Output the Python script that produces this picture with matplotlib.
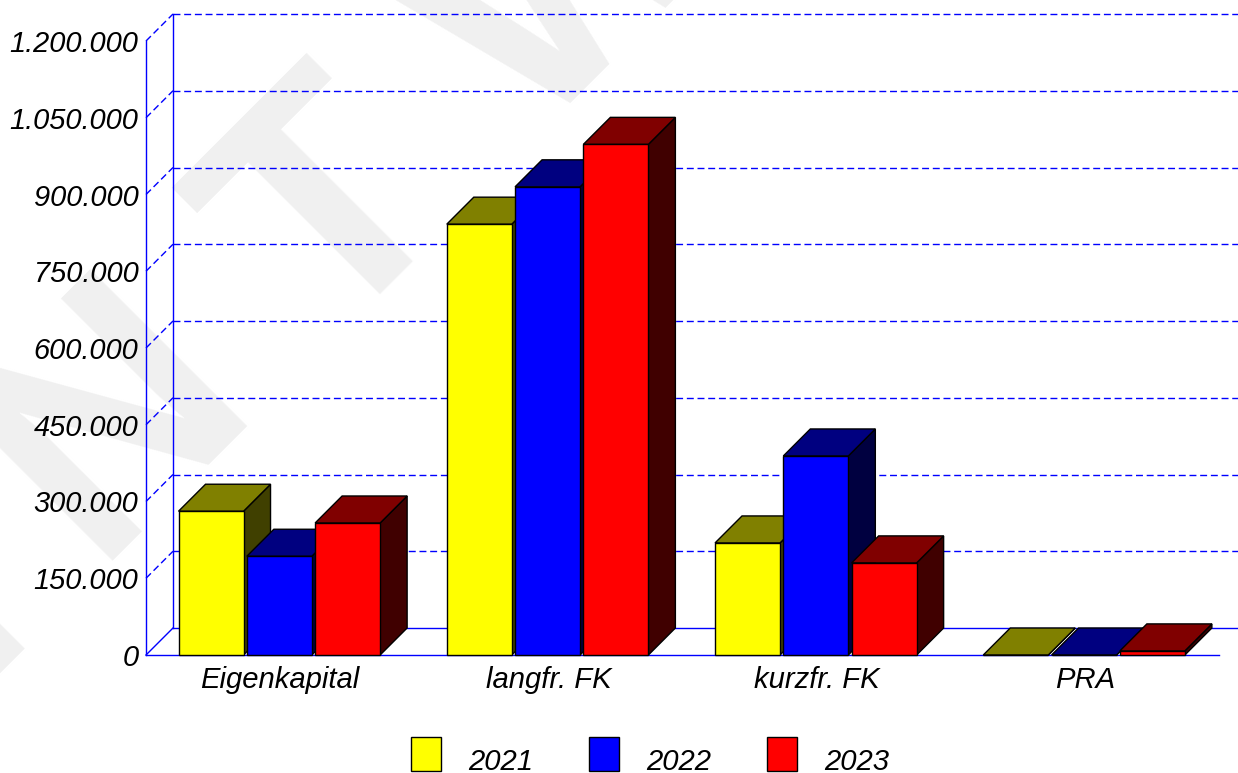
import matplotlib
matplotlib.use("Agg")
import matplotlib.pyplot as plt
from matplotlib.patches import Rectangle

# data
categories = ["Eigenkapital", "langfr. FK", "kurzfr. FK", "PRA"]
years = ["2021", "2022", "2023"]
values_2021 = [281000, 842000, 219000, 0]
values_2022 = [193000, 915000, 389000, 0]
values_2023 = [258000, 998000, 180000, 8000]
ticks = [0, 150000, 300000, 450000, 600000, 750000, 900000, 1050000, 1200000]

series = [values_2021, values_2022, values_2023]
front_cols = ["#ffff00", "#0000ff", "#ff0000"]
top_cols = ["#808000", "#000080", "#800000"]
side_cols = ["#404000", "#000040", "#400000"]

W, H = 1238, 773
plt.rcParams["font.family"] = "Liberation Sans"
fig = plt.figure(figsize=(W / 100, H / 100), dpi=100)
fig.patch.set_facecolor("white")

# watermark behind everything, runs off the page like the original
fig.text(-118 / W, 1 - 792 / H, "E N T W U R F", fontsize=233, fontweight="bold", color="#f0f0f0",
         rotation=45, rotation_mode="anchor", ha="left", va="baseline", zorder=-1)

ax = fig.add_axes([146 / W, 1 - 655 / H, 1073 / W, 614 / H])
ax.patch.set_alpha(0)
ax.set_xlim(0, 4)
ax.set_ylim(0, 1200000)
for s in ax.spines.values():
    s.set_visible(False)

# depth of the fake 3d in data units (27 px)
dx = 27 / 1073 * 4
dy = 27 / 614 * 1200000

blue = "#0000ff"
dash = (0, (5.0, 2.7))
for t in ticks[1:]:
    ax.plot([0, dx], [t, t + dy], color=blue, lw=1, ls=dash, clip_on=False, zorder=1)
    ax.plot([dx, 4 + dx], [t + dy, t + dy], color=blue, lw=1, ls=dash, clip_on=False, zorder=1)
ax.plot([0, 0], [0, ticks[-1]], color=blue, lw=1, clip_on=False, zorder=1)
ax.plot([dx, dx], [dy, ticks[-1] + dy], color=blue, lw=1, clip_on=False, zorder=1)
ax.plot([0, dx], [0, dy], color=blue, lw=1, clip_on=False, zorder=1)
ax.plot([0, 4], [0, 0], color=blue, lw=1, clip_on=False, zorder=1)
ax.plot([dx, 4 + dx], [dy, dy], color=blue, lw=1, clip_on=False, zorder=1)

bar_w = 65 / 1073 * 4
step = 68.3 / 1073 * 4
shift = -0.8 / 1073 * 4
order = 3
for i in range(len(categories)):
    for j, vals in enumerate(series):
        x0 = i + 0.5 + shift + (j - 1) * step - bar_w / 2
        x1 = x0 + bar_w
        v = vals[i]
        ax.fill([x1, x1 + dx, x1 + dx, x1], [0, dy, v + dy, v], facecolor=side_cols[j],
                edgecolor="black", lw=1, clip_on=False, zorder=order)
        ax.fill([x0, x0 + dx, x1 + dx, x1], [v, v + dy, v + dy, v], facecolor=top_cols[j],
                edgecolor="black", lw=1, clip_on=False, zorder=order)
        ax.bar(x0, v, width=bar_w, align="edge", color=front_cols[j], edgecolor="black",
               lw=1, clip_on=False, zorder=order + 0.5)
        order += 1

ax.set_xticks([i + 0.5 for i in range(len(categories))], categories)
ax.set_yticks(ticks, [f"{t:,}".replace(",", ".") for t in ticks])
ax.tick_params(axis="both", length=0)
ax.tick_params(axis="x", pad=8, labelsize=21.1)
ax.tick_params(axis="y", pad=5.5, labelsize=20.9)
for lab in ax.get_xticklabels() + ax.get_yticklabels():
    lab.set_fontstyle("italic")
    lab.set_color("black")

# legend, placed by hand: the text sits lower than the swatch centre
legend_x = [411, 589, 767]
for x, c, yr in zip(legend_x, front_cols, years):
    fig.add_artist(Rectangle((x / W, 1 - 771 / H), 30 / W, 34 / H, transform=fig.transFigure,
                             facecolor=c, edgecolor="black", lw=1))
    fig.text((x + 57) / W, 1 - 769.5 / H, yr, fontsize=21.1, fontstyle="italic",
             ha="left", va="baseline", color="black")

fig.savefig("out.png", dpi=100)
